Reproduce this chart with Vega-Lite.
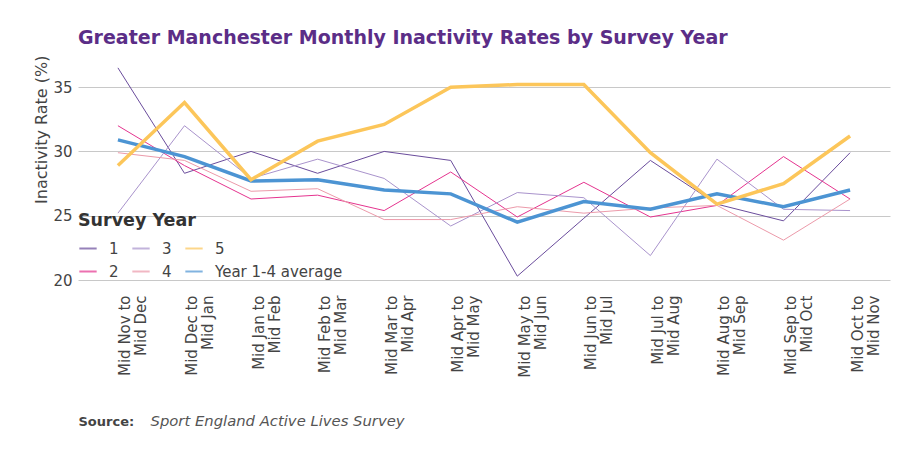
{
  "$schema": "https://vega.github.io/schema/vega-lite/v6.json",
  "width": 812,
  "height": 225,
  "padding": {"left": 33, "top": 29, "right": 7, "bottom": 5},
  "background": "white",
  "config": {
    "font": "DejaVu Sans",
    "view": {"stroke": null},
    "legend": {
      "orient": "bottom-left",
      "offset": 0,
      "padding": 0,
      "columns": 3,
      "titleFontSize": 17.5,
      "titleFontWeight": "bold",
      "titleColor": "#333333",
      "titlePadding": 9,
      "labelFontSize": 15,
      "labelColor": "#444444",
      "labelOffset": 11,
      "symbolType": "stroke",
      "symbolSize": 300,
      "symbolStrokeWidth": 2,
      "symbolOpacity": 0.7,
      "rowPadding": 5,
      "columnPadding": 9
    }
  },
  "title": {
    "text": "Greater Manchester Monthly Inactivity Rates by Survey Year",
    "anchor": "start",
    "frame": "group",
    "fontSize": 19,
    "fontWeight": "bold",
    "color": "#5b2d87",
    "offset": 7
  },
  "data": {
    "values": [
      {"period": "Mid Nov to Mid Dec", "series": "1", "value": 36.5},
      {"period": "Mid Dec to Mid Jan", "series": "1", "value": 28.3},
      {"period": "Mid Jan to Mid Feb", "series": "1", "value": 30.0},
      {"period": "Mid Feb to Mid Mar", "series": "1", "value": 28.3},
      {"period": "Mid Mar to Mid Apr", "series": "1", "value": 30.0},
      {"period": "Mid Apr to Mid May", "series": "1", "value": 29.3},
      {"period": "Mid May to Mid Jun", "series": "1", "value": 20.3},
      {"period": "Mid Jun to Mid Jul", "series": "1", "value": 24.8},
      {"period": "Mid Jul to Mid Aug", "series": "1", "value": 29.3},
      {"period": "Mid Aug to Mid Sep", "series": "1", "value": 25.9},
      {"period": "Mid Sep to Mid Oct", "series": "1", "value": 24.6},
      {"period": "Mid Oct to Mid Nov", "series": "1", "value": 29.9},
      {"period": "Mid Nov to Mid Dec", "series": "2", "value": 32.0},
      {"period": "Mid Dec to Mid Jan", "series": "2", "value": 28.9},
      {"period": "Mid Jan to Mid Feb", "series": "2", "value": 26.3},
      {"period": "Mid Feb to Mid Mar", "series": "2", "value": 26.6},
      {"period": "Mid Mar to Mid Apr", "series": "2", "value": 25.4},
      {"period": "Mid Apr to Mid May", "series": "2", "value": 28.4},
      {"period": "Mid May to Mid Jun", "series": "2", "value": 24.9},
      {"period": "Mid Jun to Mid Jul", "series": "2", "value": 27.6},
      {"period": "Mid Jul to Mid Aug", "series": "2", "value": 24.9},
      {"period": "Mid Aug to Mid Sep", "series": "2", "value": 25.8},
      {"period": "Mid Sep to Mid Oct", "series": "2", "value": 29.6},
      {"period": "Mid Oct to Mid Nov", "series": "2", "value": 26.3},
      {"period": "Mid Nov to Mid Dec", "series": "3", "value": 25.2},
      {"period": "Mid Dec to Mid Jan", "series": "3", "value": 32.0},
      {"period": "Mid Jan to Mid Feb", "series": "3", "value": 27.9},
      {"period": "Mid Feb to Mid Mar", "series": "3", "value": 29.4},
      {"period": "Mid Mar to Mid Apr", "series": "3", "value": 27.9},
      {"period": "Mid Apr to Mid May", "series": "3", "value": 24.2},
      {"period": "Mid May to Mid Jun", "series": "3", "value": 26.8},
      {"period": "Mid Jun to Mid Jul", "series": "3", "value": 26.4},
      {"period": "Mid Jul to Mid Aug", "series": "3", "value": 21.9},
      {"period": "Mid Aug to Mid Sep", "series": "3", "value": 29.4},
      {"period": "Mid Sep to Mid Oct", "series": "3", "value": 25.5},
      {"period": "Mid Oct to Mid Nov", "series": "3", "value": 25.4},
      {"period": "Mid Nov to Mid Dec", "series": "4", "value": 29.9},
      {"period": "Mid Dec to Mid Jan", "series": "4", "value": 29.3},
      {"period": "Mid Jan to Mid Feb", "series": "4", "value": 26.9},
      {"period": "Mid Feb to Mid Mar", "series": "4", "value": 27.1},
      {"period": "Mid Mar to Mid Apr", "series": "4", "value": 24.7},
      {"period": "Mid Apr to Mid May", "series": "4", "value": 24.7},
      {"period": "Mid May to Mid Jun", "series": "4", "value": 25.7},
      {"period": "Mid Jun to Mid Jul", "series": "4", "value": 25.2},
      {"period": "Mid Jul to Mid Aug", "series": "4", "value": 25.6},
      {"period": "Mid Aug to Mid Sep", "series": "4", "value": 25.8},
      {"period": "Mid Sep to Mid Oct", "series": "4", "value": 23.1},
      {"period": "Mid Oct to Mid Nov", "series": "4", "value": 26.3},
      {"period": "Mid Nov to Mid Dec", "series": "5", "value": 28.9},
      {"period": "Mid Dec to Mid Jan", "series": "5", "value": 33.8},
      {"period": "Mid Jan to Mid Feb", "series": "5", "value": 27.8},
      {"period": "Mid Feb to Mid Mar", "series": "5", "value": 30.8},
      {"period": "Mid Mar to Mid Apr", "series": "5", "value": 32.1},
      {"period": "Mid Apr to Mid May", "series": "5", "value": 35.0},
      {"period": "Mid May to Mid Jun", "series": "5", "value": 35.2},
      {"period": "Mid Jun to Mid Jul", "series": "5", "value": 35.2},
      {"period": "Mid Jul to Mid Aug", "series": "5", "value": 29.9},
      {"period": "Mid Aug to Mid Sep", "series": "5", "value": 25.9},
      {"period": "Mid Sep to Mid Oct", "series": "5", "value": 27.5},
      {"period": "Mid Oct to Mid Nov", "series": "5", "value": 31.2},
      {"period": "Mid Nov to Mid Dec", "series": "Year 1-4 average", "value": 30.9},
      {"period": "Mid Dec to Mid Jan", "series": "Year 1-4 average", "value": 29.6},
      {"period": "Mid Jan to Mid Feb", "series": "Year 1-4 average", "value": 27.7},
      {"period": "Mid Feb to Mid Mar", "series": "Year 1-4 average", "value": 27.8},
      {"period": "Mid Mar to Mid Apr", "series": "Year 1-4 average", "value": 27.0},
      {"period": "Mid Apr to Mid May", "series": "Year 1-4 average", "value": 26.7},
      {"period": "Mid May to Mid Jun", "series": "Year 1-4 average", "value": 24.5},
      {"period": "Mid Jun to Mid Jul", "series": "Year 1-4 average", "value": 26.1},
      {"period": "Mid Jul to Mid Aug", "series": "Year 1-4 average", "value": 25.5},
      {"period": "Mid Aug to Mid Sep", "series": "Year 1-4 average", "value": 26.7},
      {"period": "Mid Sep to Mid Oct", "series": "Year 1-4 average", "value": 25.7},
      {"period": "Mid Oct to Mid Nov", "series": "Year 1-4 average", "value": 27.0}
    ]
  },
  "encoding": {
    "y": {
      "field": "value",
      "type": "quantitative",
      "scale": {"domain": [20, 37.5], "nice": false, "zero": false},
      "axis": {
        "values": [20, 25, 30, 35],
        "title": "Inactivity Rate (%)",
        "titleFontSize": 16,
        "titleFontWeight": "normal",
        "titleColor": "#444444",
        "titleAnchor": "end",
        "titlePadding": 3,
        "labelFontSize": 15,
        "labelColor": "#444444",
        "labelPadding": 6,
        "ticks": false,
        "tickSize": 0,
        "domain": false,
        "grid": true,
        "gridColor": "#c8c8c8",
        "gridWidth": 1
      }
    },
    "color": {
      "field": "series",
      "type": "nominal",
      "scale": {
        "domain": ["1", "2", "3", "4", "5", "Year 1-4 average"],
        "range": ["#6a4c9c", "#e5348f", "#a993cc", "#ec9aaa", "#fcc65a", "#4c94d3"]
      },
      "legend": {"title": "Survey Year"}
    }
  },
  "resolve": {"axis": {"x": "independent"}},
  "layer": [
    {
      "transform": [{"filter": "datum.series != '5' && datum.series != 'Year 1-4 average'"}],
      "mark": {"type": "line", "strokeWidth": 1},
      "encoding": {
        "x": {
          "field": "period",
          "type": "nominal",
          "sort": ["Mid Nov to Mid Dec", "Mid Dec to Mid Jan", "Mid Jan to Mid Feb", "Mid Feb to Mid Mar", "Mid Mar to Mid Apr", "Mid Apr to Mid May", "Mid May to Mid Jun", "Mid Jun to Mid Jul", "Mid Jul to Mid Aug", "Mid Aug to Mid Sep", "Mid Sep to Mid Oct", "Mid Oct to Mid Nov"],
          "scale": {"type": "point", "padding": 0.6},
          "axis": {
            "orient": "bottom",
            "labelExpr": "[slice(datum.label,0,10), slice(datum.label,11)]",
            "labelAngle": 270,
            "labelAlign": "right",
            "labelBaseline": "top",
            "labelLineHeight": 16,
            "labelPadding": 15,
            "labelFontSize": 15,
            "labelColor": "#444444",
            "ticks": false,
            "tickSize": 0,
            "domain": false,
            "grid": false,
            "title": "Source:",
            "titleFontSize": 13,
            "titleFontWeight": "bold",
            "titleColor": "#444444",
            "titleX": 0,
            "titleY": 141,
            "titleAlign": "left",
            "titleBaseline": "middle"
          }
        }
      }
    },
    {
      "transform": [{"filter": "datum.series == 'Year 1-4 average'"}],
      "mark": {"type": "line", "strokeWidth": 3.5},
      "encoding": {
        "x": {
          "field": "period",
          "type": "nominal",
          "sort": ["Mid Nov to Mid Dec", "Mid Dec to Mid Jan", "Mid Jan to Mid Feb", "Mid Feb to Mid Mar", "Mid Mar to Mid Apr", "Mid Apr to Mid May", "Mid May to Mid Jun", "Mid Jun to Mid Jul", "Mid Jul to Mid Aug", "Mid Aug to Mid Sep", "Mid Sep to Mid Oct", "Mid Oct to Mid Nov"],
          "axis": {
            "orient": "bottom",
            "labels": false,
            "ticks": false,
            "tickSize": 0,
            "domain": false,
            "grid": false,
            "title": "Sport England Active Lives Survey",
            "titleFontSize": 14.8,
            "titleFontWeight": "normal",
            "titleFontStyle": "italic",
            "titleColor": "#555555",
            "titleX": 72,
            "titleY": 141,
            "titleAlign": "left",
            "titleBaseline": "middle"
          }
        }
      }
    },
    {
      "transform": [{"filter": "datum.series == '5'"}],
      "mark": {"type": "line", "strokeWidth": 3.5},
      "encoding": {
        "x": {
          "field": "period",
          "type": "nominal",
          "sort": ["Mid Nov to Mid Dec", "Mid Dec to Mid Jan", "Mid Jan to Mid Feb", "Mid Feb to Mid Mar", "Mid Mar to Mid Apr", "Mid Apr to Mid May", "Mid May to Mid Jun", "Mid Jun to Mid Jul", "Mid Jul to Mid Aug", "Mid Aug to Mid Sep", "Mid Sep to Mid Oct", "Mid Oct to Mid Nov"],
          "axis": null
        }
      }
    }
  ]
}
